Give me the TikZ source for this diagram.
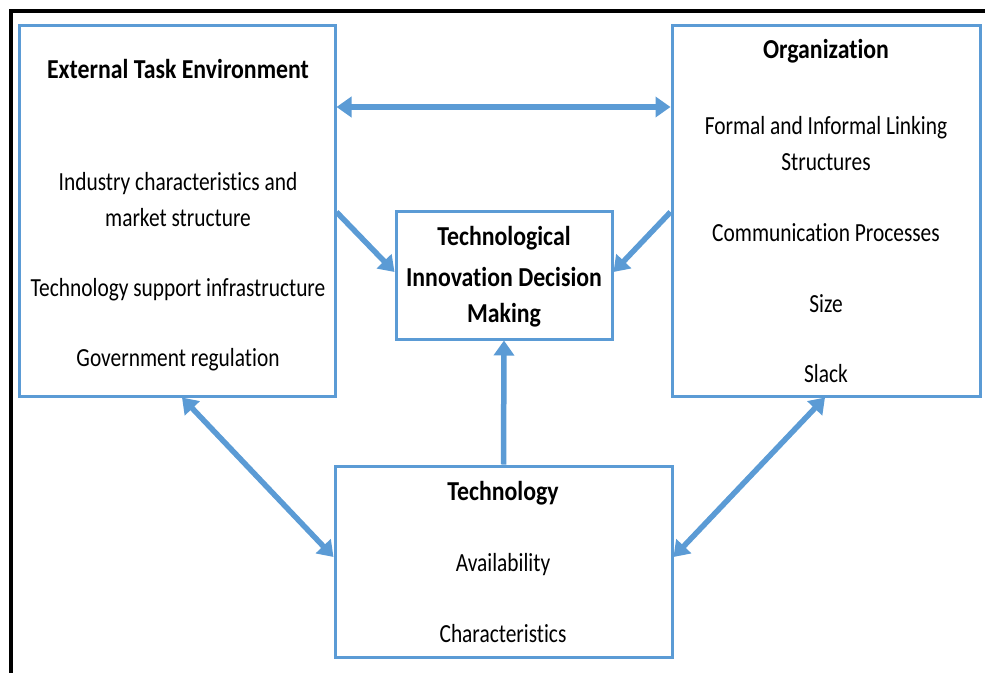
\documentclass[tikz,border=0pt]{standalone}
\usepackage{fontspec}
\setmainfont{Carlito}[Ligatures=NoCommon]
\usetikzlibrary{arrows.meta,calc}
\definecolor{lineblue}{HTML}{5B9BD5}
\newcommand{\bodyvs}[1]{\scalebox{1}[1.22]{#1}}
\newcommand{\titlevs}[1]{\scalebox{1}[1.15]{#1}}
\tikzset{
  boxnode/.style={draw=lineblue, line width=3pt, rectangle, inner sep=0pt},
  titletext/.style={font=\fontsize{23.8}{28}\selectfont\bfseries, inner sep=0pt, align=center},
  bodytext/.style={font=\fontsize{21.4}{25}\selectfont, inner sep=0pt, align=center},
  conn/.style={draw=lineblue, line width=5.5pt, arrows={-Triangle[length=15pt,width=20pt]}},
  biconn/.style={draw=lineblue, line width=5.5pt, arrows={Triangle[length=15pt,width=20pt]-Triangle[length=15pt,width=20pt]}}
}
\begin{document}
\begin{tikzpicture}[x=1pt,y=-1pt]
\useasboundingbox (0,0) rectangle (985,672);
\draw[line width=4pt] (11,680) -- (11,11) -- (990,11);

\node[boxnode, minimum width=316pt, minimum height=371pt] (ext) at (177,210.5) {};
\node[boxnode, minimum width=308pt, minimum height=371pt] (org) at (826,210.5) {};
\node[boxnode, minimum width=216pt, minimum height=128pt] (tidm) at (504,275) {};
\node[boxnode, minimum width=337pt, minimum height=191pt] (tech) at (503.5,561.5) {};

\node[titletext] (extT) at (178,69) {\titlevs{External Task Environment}};
\node[bodytext] (ext1) at (178,184) {\bodyvs{Industry characteristics and}};
\node[bodytext] (ext2) at (178,218) {\bodyvs{market structure}};
\node[bodytext] (ext3) at (178,290) {\bodyvs{Technology support infrastructure}};
\node[bodytext] (ext4) at (178,360) {\bodyvs{Government regulation}};

\node[titletext] (orgT) at (826,51) {\titlevs{Organization}};
\node[bodytext] (org1) at (826,128) {\bodyvs{Formal and Informal Linking}};
\node[bodytext] (org2) at (826,162) {\bodyvs{Structures}};
\node[bodytext] (org3) at (826,233) {\bodyvs{Communication Processes}};
\node[bodytext] (org4) at (826,304) {\bodyvs{Size}};
\node[bodytext] (org5) at (826,374) {\bodyvs{Slack}};

\node[titletext] (tidm1) at (504,238) {\titlevs{Technological}};
\node[titletext] (tidm2) at (504,277) {\titlevs{Innovation Decision}};
\node[titletext] (tidm3) at (504,315) {\titlevs{Making}};

\node[titletext] (techT) at (503,493) {\titlevs{Technology}};
\node[bodytext] (tech1) at (503,565) {\bodyvs{Availability}};
\node[bodytext] (tech2) at (503,634) {\bodyvs{Characteristics}};

\draw[biconn] (ext.east |- 0,107) -- (org.west |- 0,107);
\draw[conn] (ext.east |- 0,212) -- (tidm.west |- 0,272);
\draw[conn] (org.west |- 0,212) -- (tidm.east |- 0,272);
\draw[conn] (tech.north) -- (tidm.south);
\draw[biconn] (ext.south -| 182,0) -- (tech.west |- 0,557);
\draw[biconn] (org.south -| 825,0) -- (tech.east |- 0,557);
\end{tikzpicture}
\end{document}
